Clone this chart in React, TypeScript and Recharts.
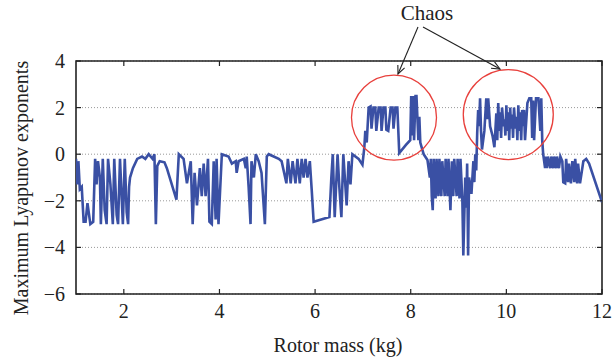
import React from 'react'
import {
  LineChart,
  Line,
  XAxis,
  YAxis,
  CartesianGrid,
  ReferenceArea,
  ReferenceDot,
} from 'recharts'

// rotor mass (kg) and max Lyapunov exponent
const massKg = [
  1.0, 1.03, 1.05, 1.08, 1.12, 1.16, 1.2, 1.24, 1.3, 1.36, 1.4, 1.43, 1.46, 1.5, 1.52, 1.56, 1.6, 1.64, 1.67, 1.72,
  1.77, 1.8, 1.85, 1.88, 1.92, 1.98, 2.02, 2.06, 2.09, 2.11, 2.13, 2.19, 2.28, 2.38, 2.45, 2.52, 2.6, 2.64, 2.67, 2.7,
  2.75, 2.85, 2.9, 3.1, 3.15,
  3.25, 3.32, 3.4, 3.44, 3.48, 3.53, 3.59, 3.63, 3.67, 3.71, 3.76, 3.79, 3.84, 3.88, 3.92, 3.94, 3.98, 4.05, 4.19,
  4.26, 4.34, 4.36, 4.4, 4.51, 4.55, 4.57, 4.61, 4.65, 4.67, 4.72, 4.76, 4.82, 4.88, 4.95, 4.99, 5.03, 5.24, 5.3, 5.4,
  5.43, 5.49, 5.53, 5.59, 5.63, 5.68, 5.72, 5.76, 5.8, 5.84, 5.89, 5.93, 5.97, 6.3, 6.34, 6.37, 6.41, 6.47, 6.51,
  6.55, 6.59, 6.66, 6.7, 6.74, 6.78, 6.91, 6.99, 7.03, 7.05, 7.08, 7.12,
  7.16, 7.18, 7.22, 7.26, 7.28, 7.33, 7.37, 7.39, 7.43, 7.47, 7.49, 7.53, 7.58, 7.62, 7.64, 7.68, 7.72, 7.76, 7.9,
  7.99, 8.01, 8.03, 8.05, 8.07, 8.1, 8.12, 8.16, 8.18, 8.2, 8.27, 8.35,
  8.4, 8.42, 8.44, 8.46, 8.48, 8.52, 8.54, 8.58, 8.6, 8.64, 8.66, 8.71, 8.73, 8.77, 8.79, 8.83, 8.86, 8.89, 8.91,
  8.96, 8.98, 9.02, 9.04, 9.08, 9.1, 9.14, 9.16, 9.18, 9.2, 9.22, 9.27, 9.31, 9.33, 9.35, 9.37,
  9.39, 9.41, 9.43, 9.45, 9.47, 9.49, 9.54, 9.58, 9.6, 9.62, 9.66, 9.71, 9.75, 9.77, 9.79, 9.81, 9.83, 9.85, 9.87,
  9.89, 9.91, 9.94, 9.96, 9.98, 10.0, 10.02, 10.04, 10.06, 10.08, 10.1, 10.12, 10.14, 10.16, 10.19, 10.21, 10.23,
  10.25, 10.27, 10.29, 10.31, 10.33, 10.35, 10.37, 10.39, 10.44, 10.48, 10.52, 10.54, 10.56, 10.58, 10.62, 10.67,
  10.71, 10.73, 10.75, 10.77,
  10.81, 10.83, 10.85, 10.87, 10.92, 10.94, 10.98, 11.0, 11.04, 11.06, 11.1, 11.13, 11.17, 11.19, 11.23, 11.25,
  11.29, 11.31, 11.35, 11.38, 11.42, 11.44, 11.48, 11.5, 11.54, 11.61, 11.67, 11.73, 12.0,
]

const lyapunov = [
  -0.2, -1.3, -0.3, -1.5, -1.4, -2.9, -2.9, -2.1, -3.0, -2.9, -0.2, -1.3, -0.3, -1.0, -3.0, -0.2, -2.4, -3.0, -0.2, -1.3,
  -3.0, -0.2, -2.6, -3.0, -0.2, -3.0, -0.2, -2.5, -3.0, -1.4, -1.0, -0.6, -0.2, -0.1, -0.2, 0.0, -0.2, 0.0, -3.0, -0.5,
  -0.3, -0.35, -0.6, -1.95, 0.0,
  -0.2, -1.25, -0.3, -3.0, -0.8, -2.2, -0.6, -1.8, -0.4, -1.8, -0.2, -2.9, -3.0, -0.3, -2.8, -0.2, -3.0, 0.0, -0.1,
  -0.4, -0.3, -0.8, -0.3, -0.2, -0.6, -0.1, -1.4, -3.0, -0.3, -1.0, 0.0, -0.3, -0.8, -3.0, -0.1, 0.0, -0.2, -0.3, -1.25,
  -0.2, -1.25, -0.3, -1.25, -0.2, -1.25, -0.2, -1.0, -0.2, -1.0, -0.3, -1.55, -2.9, -2.7, -1.0, 0.0, -2.7, 0.0, -1.5,
  -2.7, 0.0, -2.2, -0.3, -1.3, 0.0, -0.2, -0.45, 0.3, 1.0, 0.5, 2.0,
  2.05, 1.1, 2.0, 2.0, 1.0, 2.0, 2.0, 1.0, 2.0, 2.0, 1.05, 1.0, 2.0, 2.0, 1.1, 2.0, 2.0, 0.05, 0.4,
  0.6, 2.5, 0.8, 2.5, 0.6, 2.5, 2.5, 0.6, 1.6, 0.5, 0.0, -0.25,
  -1.0, -0.2, -1.8, -2.4, -0.2, -1.9, -0.2, -1.8, -0.2, -1.8, -0.3, -1.8, -0.2, -1.8, -0.2, -2.4, -0.3, -1.8, -0.2,
  -1.8, -0.2, -1.9, -0.2, -2.0, -4.35, -1.0, -2.3, -0.4, -4.35, -1.0, -1.7, -0.3, -1.2, 0.0, -0.7,
  0.9, 1.9, 1.2, 2.4, 1.0, 0.2, 1.0, 2.4, 1.5, 2.4, 1.2, 0.8, 0.3, 1.0, 1.75, 0.6, 2.2, 1.0, 1.8,
  0.7, 2.0, 1.2, 1.5, 0.8, 2.1, 1.0, 1.8, 0.6, 2.0, 1.1, 1.7, 0.7, 2.0, 1.1, 1.6, 0.6,
  2.1, 1.0, 1.8, 0.6, 1.9, 1.2, 1.9, 0.6, 2.2, 2.4, 2.4, 0.7, 2.3, 0.6, 2.4, 2.4,
  1.0, 2.4, 0.6, 0.0,
  -0.6, -0.1, -0.6, -0.1, -0.6, -0.1, -0.6, -0.1, -0.6, -0.1, -0.6, -0.1, -0.3, -1.2, -1.25, -0.2,
  -1.2, -0.4, -1.25, -0.3, -1.2, -0.2, -1.25, -0.4, -1.25, -0.3, -0.2, -0.4, -2.05,
]

const xTicks = [2, 4, 6, 8, 10, 12]
const yTicks = [-6, -4, -2, 0, 2, 4]

// chaos regions (circle centres in data units)
const chaosCentersX = [7.65, 10.04]
const chaosCentersY = [1.57, 1.7]
const chaosRadii = [42.5, 45]

const data = massKg.map((m, i) => ({ m, le: lyapunov[i] }))

const W = 612
const H = 362
const TOP = 61
const BOTTOM = 294
const LEFT = 76
const RIGHT = 602
const FONT = "'Liberation Serif', 'DejaVu Serif', serif"
const textStyle = { fontFamily: FONT, fontSize: 20 }

const XTick = (props: any) => {
  const { x, payload } = props
  return (
    <g>
      <line x1={x} x2={x} y1={BOTTOM} y2={BOTTOM - 5} stroke="#222" strokeWidth={1.2} />
      <line x1={x} x2={x} y1={TOP} y2={TOP + 5} stroke="#222" strokeWidth={1.2} />
      <text x={x} y={BOTTOM + 24} textAnchor="middle" style={textStyle} fill="#222">
        {payload.value}
      </text>
    </g>
  )
}

const YTick = (props: any) => {
  const { y, payload } = props
  const v = payload.value
  return (
    <g>
      <line x1={LEFT} x2={LEFT + 5} y1={y} y2={y} stroke="#222" strokeWidth={1.2} />
      <line x1={RIGHT} x2={RIGHT - 5} y1={y} y2={y} stroke="#222" strokeWidth={1.2} />
      <text x={LEFT - 11} y={y + 7} textAnchor="end" style={textStyle} fill="#222">
        {v < 0 ? `\u2212${Math.abs(v)}` : v}
      </text>
    </g>
  )
}

function arrowHead(x1: number, y1: number, x2: number, y2: number) {
  const a = Math.atan2(y2 - y1, x2 - x1)
  const len = 9
  const spread = 0.42
  const p1 = [x2 - len * Math.cos(a - spread), y2 - len * Math.sin(a - spread)]
  const p2 = [x2 - len * Math.cos(a + spread), y2 - len * Math.sin(a + spread)]
  return `M${p1[0]},${p1[1]} L${x2},${y2} L${p2[0]},${p2[1]}`
}

const arrows = [
  [418, 27, 398, 74],
  [423, 27, 500, 69],
]

export default function App() {
  return (
    <div style={{ position: 'absolute', left: 0, top: 0, width: W, height: H, background: '#fff' }}>
      <LineChart
        width={W}
        height={H}
        data={data}
        margin={{ top: TOP, right: W - RIGHT, bottom: 28, left: 0 }}
      >
        <CartesianGrid vertical={false} stroke="#999" strokeDasharray="1 2" />
        <XAxis
          dataKey="m"
          type="number"
          domain={[1, 12]}
          ticks={xTicks}
          allowDataOverflow
          height={40}
          axisLine={false}
          tickLine={false}
          tick={<XTick />}
        />
        <YAxis
          type="number"
          domain={[-6, 4]}
          ticks={yTicks}
          allowDataOverflow
          width={LEFT}
          axisLine={false}
          tickLine={false}
          tick={<YTick />}
        />
        <Line
          type="linear"
          dataKey="le"
          stroke="#3a50a4"
          strokeWidth={2.6}
          dot={false}
          isAnimationActive={false}
        />
        <ReferenceArea x1={1} x2={12} y1={-6} y2={4} fill="none" stroke="#222" strokeWidth={1.6} />
        {chaosCentersX.map((cx, i) => (
          <ReferenceDot
            key={i}
            x={cx}
            y={chaosCentersY[i]}
            r={chaosRadii[i]}
            fill="none"
            stroke="#e8403c"
            strokeWidth={1.3}
            ifOverflow="visible"
          />
        ))}
      </LineChart>
      <svg
        width={W}
        height={H}
        style={{ position: 'absolute', left: 0, top: 0, pointerEvents: 'none' }}
      >
        <text x={427} y={20} textAnchor="middle" style={{ ...textStyle, fontSize: 21 }} fill="#222">
          Chaos
        </text>
        {arrows.map(([x1, y1, x2, y2], i) => (
          <g key={i} stroke="#222" strokeWidth={1.1} fill="none">
            <line x1={x1} y1={y1} x2={x2} y2={y2} />
            <path d={arrowHead(x1, y1, x2, y2)} />
          </g>
        ))}
        <text x={338} y={352} textAnchor="middle" style={textStyle} fill="#222">
          Rotor mass (kg)
        </text>
        <text transform="translate(28,188) rotate(-90)" textAnchor="middle" style={textStyle} fill="#222">
          Maximum Lyapunov exponents
        </text>
      </svg>
    </div>
  )
}
